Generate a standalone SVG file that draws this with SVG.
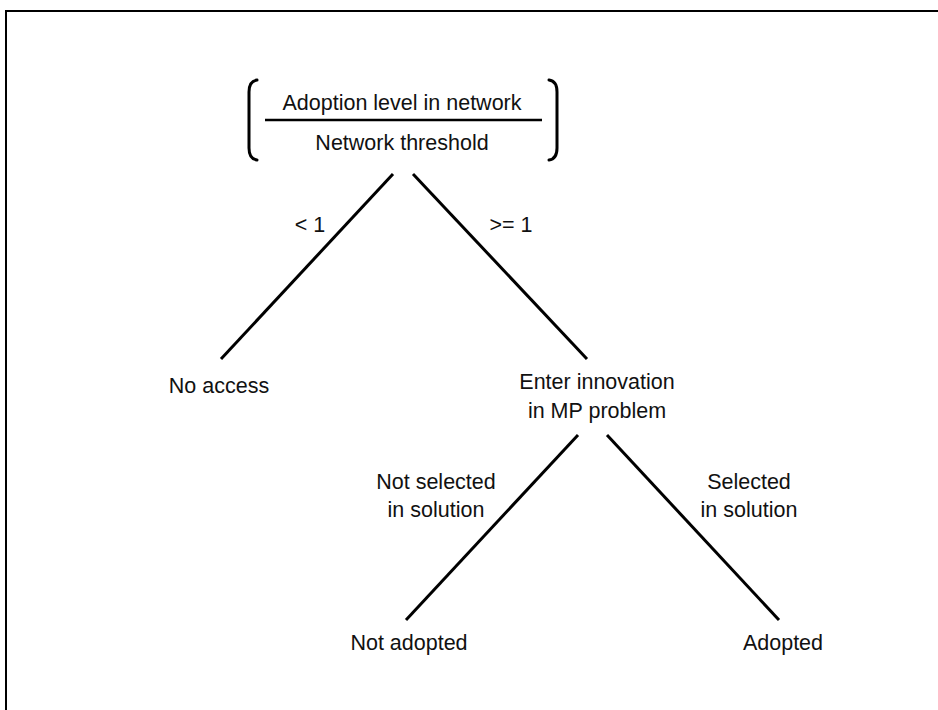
<svg xmlns="http://www.w3.org/2000/svg" width="938" height="710" viewBox="0 0 938 710">
<style>
  text { font-family: "Liberation Sans", Arial, sans-serif; font-size: 21.5px; fill: #111; text-anchor: middle; }
  .edge { stroke: #000; stroke-width: 3; fill: none; }
  .frame { stroke: #000; stroke-width: 2; fill: none; }
  .br { stroke: #000; stroke-width: 3; fill: none; stroke-linecap: round; }
</style>
<rect x="0" y="0" width="938" height="710" fill="#fff"/>
<path class="frame" d="M6,720 V11 H950"/>
<g id="root">
  <path class="br" d="M257,80 Q249,81 249,92 V148 Q249,159 257,160"/>
  <path class="br" d="M549,80 Q557,81 557,92 V148 Q557,159 549,160"/>
  <line x1="265" y1="120" x2="542" y2="120" stroke="#000" stroke-width="2.5"/>
  <text x="402" y="110">Adoption level in network</text>
  <text x="402" y="150">Network threshold</text>
</g>
<g id="no-access"><text x="219" y="393">No access</text></g>
<g id="enter"><text x="597" y="389">Enter innovation</text><text x="597" y="418">in MP problem</text></g>
<g id="not-adopted"><text x="409" y="650">Not adopted</text></g>
<g id="adopted"><text x="783" y="650">Adopted</text></g>
<g id="connectors">
  <line class="edge" x1="393" y1="174" x2="221" y2="359"/>
  <line class="edge" x1="413" y1="174" x2="587" y2="359"/>
  <line class="edge" x1="578" y1="435" x2="406" y2="620"/>
  <line class="edge" x1="607" y1="435" x2="779" y2="620"/>
  <text x="310" y="232">&lt; 1</text>
  <text x="511" y="232">&gt;= 1</text>
  <text x="436" y="489">Not selected</text>
  <text x="436" y="517">in solution</text>
  <text x="749" y="489">Selected</text>
  <text x="749" y="517">in solution</text>
</g>
</svg>
